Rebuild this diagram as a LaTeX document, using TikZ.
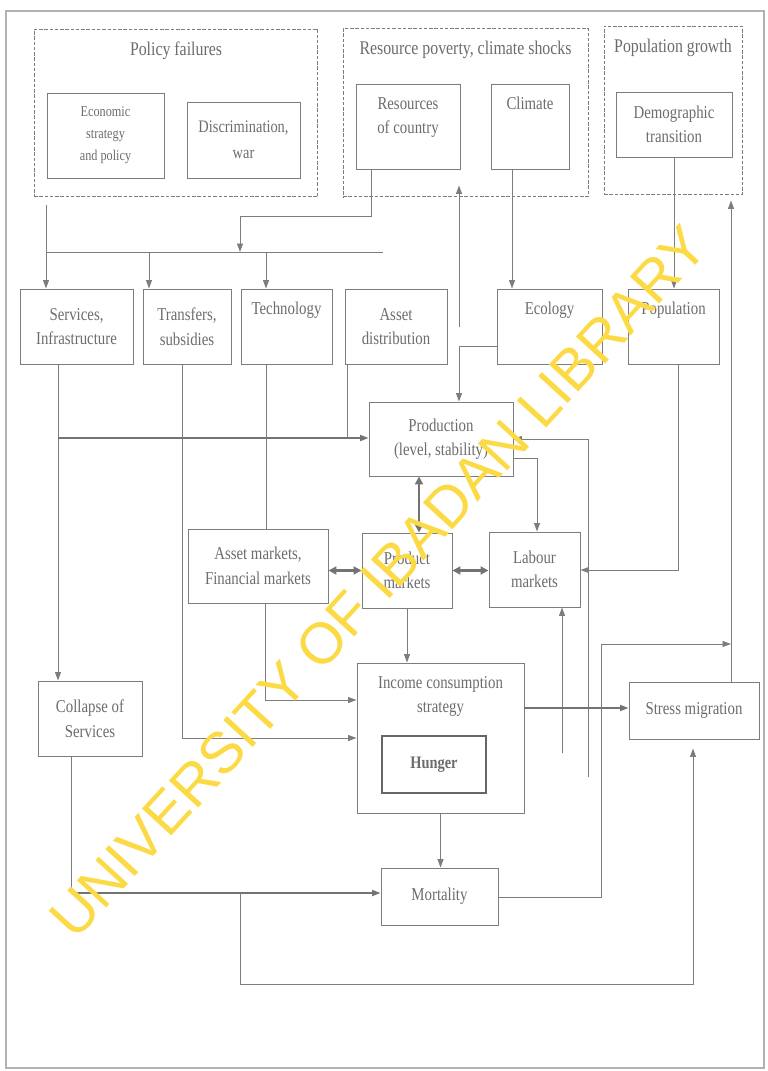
\documentclass[tikz,border=0pt]{standalone}
\usepackage{fontspec}
\setmainfont{Liberation Serif}[FakeStretch=0.82]
\newfontfamily\wmfont{Liberation Sans}
\usetikzlibrary{arrows.meta,positioning}
\definecolor{linegray}{RGB}{125,125,125}
\definecolor{textgray}{RGB}{108,108,108}
\definecolor{markyellow}{RGB}{252,218,70}
\tikzset{
  box/.style={rectangle,draw=linegray,line width=0.55pt,text=textgray,align=center,inner sep=2pt,font=\fontsize{10.3}{14}\selectfont},
  rowbox/.style={box,minimum height=1.5cm},
  grpbox/.style={rectangle,draw=linegray,dash pattern=on 2pt off 1pt,line width=0.55pt},
  toptext/.style={label={[text=textgray,align=center,anchor=north,yshift=-0.15cm,font=\fontsize{10.3}{14}\selectfont]north:{#1}}},
  grptitle/.style={label={[text=textgray,anchor=north,yshift=-0.15cm,font=\fontsize{11}{13}\selectfont]north:{#1}}},
  conn/.style={draw=linegray,line width=0.55pt},
  arrow/.style={conn,-{Triangle[length=1.7mm,width=1.2mm]}},
  thickarrow/.style={arrow,line width=1pt,draw=black!55},
  dblarrow/.style={draw=black!55,line width=1.6pt,{Triangle[length=1.6mm,width=1.6mm]}-{Triangle[length=1.6mm,width=1.6mm]}}
}
\begin{document}
\begin{tikzpicture}[x=0.02cm,y=-0.02cm]
  \useasboundingbox (0,0) rectangle (767,1071);
  \draw[draw=black!30,line width=0.6pt] (6,11) rectangle (764,1068);

  % causes
  \node[grpbox,minimum width=5.68cm,minimum height=3.36cm,grptitle={Policy failures}] (polgrp) at (176,113) {};
  \node[grpbox,minimum width=4.90cm,minimum height=3.38cm,grptitle={Resource poverty, climate shocks}] (resgrp) at (465.5,112.5) {};
  \node[grpbox,minimum width=2.76cm,minimum height=3.38cm,grptitle={Population growth}] (popgrp) at (673,110.5) {};
  \node[box,minimum width=2.34cm,minimum height=1.70cm,font=\fontsize{8.5}{12.5}\selectfont] (econ) at (105.5,135.5) {Economic\\strategy\\and policy};
  \node[box,minimum width=2.26cm,minimum height=1.52cm,font=\fontsize{10}{15}\selectfont] (discr) at (243.5,140) {Discrimination,\\war};
  \node[box,minimum width=2.08cm,minimum height=1.70cm,toptext={Resources\\of country}] (rescty) at (408,126.5) {};
  \node[box,minimum width=1.56cm,minimum height=1.70cm,toptext={Climate}] (clim) at (530,126.5) {};
  \node[box,minimum width=2.32cm,minimum height=1.30cm] (demo) at (674,124.5) {Demographic\\transition};

  % second row
  \node[rowbox,minimum width=2.26cm] (svc) at (76.5,326.5) {Services,\\Infrastructure};
  \node[rowbox,minimum width=1.76cm] (transf) at (187,326.5) {Transfers,\\subsidies};
  \node[rowbox,minimum width=1.82cm,toptext={Technology}] (tech) at (286.5,326.5) {};
  \node[rowbox,minimum width=2.04cm] (assetd) at (396,326.5) {Asset\\distribution};
  \node[rowbox,minimum width=2.10cm,toptext={Ecology}] (ecol) at (549.5,326.5) {};
  \node[rowbox,minimum width=1.82cm,toptext={Population}] (popn) at (673.5,326.5) {};

  % markets and outcomes
  \node[box,minimum width=2.88cm,minimum height=1.48cm] (prod) at (441,439) {Production\\(level, stability)};
  \node[box,minimum width=2.80cm,minimum height=1.48cm] (assetm) at (258,566) {Asset markets,\\Financial markets};
  \node[box,minimum width=1.80cm,minimum height=1.50cm] (prodm) at (407,570.5) {Product\\markets};
  \node[box,minimum width=1.82cm,minimum height=1.50cm] (labm) at (534.5,569.5) {Labour\\markets};
  \node[box,minimum width=2.08cm,minimum height=1.50cm] (collapse) at (90,718.5) {Collapse of\\Services};
  \node[box,minimum width=3.34cm,minimum height=3.00cm,toptext={Income consumption\\strategy}] (income) at (440.5,738) {};
  \node[box,minimum width=2.08cm,minimum height=1.14cm,font=\bfseries\fontsize{10}{12}\selectfont,line width=1pt,draw=black!60] (hunger) at (434,764.5) {Hunger};
  \node[box,minimum width=2.60cm,minimum height=1.14cm] (stress) at (694,710.5) {Stress migration};
  \node[box,minimum width=2.34cm,minimum height=1.14cm] (mort) at (439.5,896.5) {Mortality};

  % junctions
  \coordinate (bus) at (46,252);
  \coordinate (busend) at (383,252);
  \coordinate (bT) at (149,252);
  \coordinate (bK) at (266,252);
  \coordinate (bR) at (240,252);
  \coordinate (rc) at (371,216);
  \coordinate (upR) at (459,327);
  \coordinate (ep) at (459,346);
  \coordinate (cl) at (512,200);
  \coordinate (sv) at (58,438);
  \coordinate (ad) at (347,438);
  \coordinate (tf) at (182,738);
  \coordinate (am) at (265,700);
  \coordinate (pp) at (419,505);
  \coordinate (pl) at (537,458);
  \coordinate (rv) at (588,777);
  \coordinate (rvt) at (588,439);
  \coordinate (pb) at (678,570);
  \coordinate (lu) at (562,753);
  \coordinate (is) at (524,708);
  \coordinate (cj) at (71,893);
  \coordinate (bb) at (240,893);
  \coordinate (bl) at (693,984);
  \coordinate (mr) at (601,897);
  \coordinate (upP) at (731,644);

  \draw[arrow,shorten <=0.16cm] (bus |- polgrp.south) -- (bus |- svc.north);
  \draw[conn] (bus) -- (busend);
  \draw[arrow] (bT) -- (bT |- transf.north);
  \draw[arrow] (bK) -- (bK |- tech.north);
  \draw[arrow] (rc |- rescty.south) -- (rc) -| (bR);
  \draw[arrow,shorten >=0.32cm] (upR) -- (upR |- rescty.south);
  \draw[arrow] (cl |- clim.south) -- (cl |- ecol.north);
  \draw[arrow] (demo.south) -- (demo.south |- popn.north);
  \draw[arrow,shorten >=0.1cm] (upP |- stress.north) -- (upP |- popgrp.south);
  \draw[arrow] (ep -| ecol.west) -- (ep) -- (ep |- prod.north);
  \draw[arrow] (sv |- svc.south) -- (sv |- collapse.north);
  \draw[thickarrow] (sv) -- (sv -| prod.west);
  \draw[conn] (ad |- assetd.south) -- (ad);
  \draw[arrow] (tf |- transf.south) -- (tf) -- (tf -| income.west);
  \draw[conn] (bK |- tech.south) -- (bK |- assetm.north);
  \draw[arrow] (am |- assetm.south) -- (am) -- (am -| income.west);
  \draw[dblarrow] (pp |- prod.south) -- (pp |- prodm.north);
  \draw[dblarrow] (prodm.west -| assetm.east) -- (prodm.west);
  \draw[dblarrow] (prodm.east) -- (prodm.east -| labm.west);
  \draw[arrow] (pl -| prod.east) -- (pl) -- (pl |- labm.north);
  \draw[arrow] (rv) -- (rvt) -- (rvt -| prod.east);
  \draw[arrow] (pb |- popn.south) -- (pb) -- (pb -| labm.east);
  \draw[arrow] (lu) -- (lu |- labm.south);
  \draw[arrow] (prodm.south) -- (prodm.south |- income.north);
  \draw[thickarrow] (is -| income.east) -- (is -| stress.west);
  \draw[arrow] (income.south) -- (income.south |- mort.north);
  \draw[conn] (cj |- collapse.south) -- (cj);
  \draw[thickarrow] (cj) -- (cj -| mort.west);
  \draw[arrow,shorten >=0.18cm] (bb) |- (bl) -- (bl |- stress.south);
  \draw[arrow] (mr -| mort.east) -- (mr) |- (upP);

  \node[font=\wmfont\fontsize{33}{33}\selectfont,text=markyellow,rotate=47.5] (wmark) at (378,582) {UNIVERSITY OF IBADAN LIBRARY};
\end{tikzpicture}
\end{document}
